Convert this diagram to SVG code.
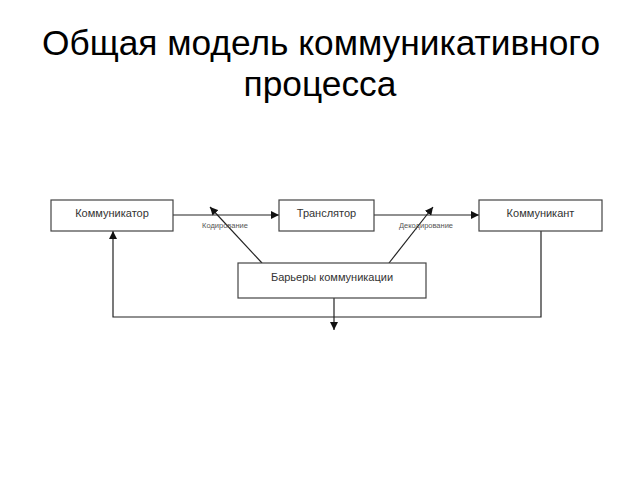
<svg xmlns="http://www.w3.org/2000/svg" width="640" height="480" viewBox="0 0 640 480">
<style>
.title{font-family:"Liberation Sans",Arial,sans-serif;font-size:35.3px;fill:#000;text-anchor:middle}
.box rect{fill:#fff;stroke:#444;stroke-width:1.2}
.box text{font-family:"Liberation Sans",Arial,sans-serif;font-size:11px;fill:#333;text-anchor:middle}
.lbl{font-family:"Liberation Sans",Arial,sans-serif;font-size:7.5px;fill:#555;text-anchor:middle}
.conn path{fill:none;stroke:#222;stroke-width:1.2}
</style>
<defs>
<marker id="ah" viewBox="0 0 10 10" refX="10" refY="5" markerWidth="8" markerHeight="8" markerUnits="userSpaceOnUse" orient="auto">
<path d="M0,0 L10,5 L0,10 Z" fill="#111"/>
</marker>
</defs>
<rect width="640" height="480" fill="#fff"/>
<text class="title" x="321" y="55">Общая модель коммуникативного</text>
<text class="title" x="320" y="96">процесса</text>
<g class="conn">
<path d="M173,215 H279" marker-end="url(#ah)"/>
<path d="M374,215 H479" marker-end="url(#ah)"/>
<path d="M262,263 L210,207" marker-end="url(#ah)"/>
<path d="M389,263 L433,207" marker-end="url(#ah)"/>
<path d="M541,231 V317 H113 V231" marker-end="url(#ah)"/>
<path d="M334,298 V330" marker-end="url(#ah)"/>
</g>
<text class="lbl" x="225" y="228">Кодирование</text>
<text class="lbl" x="426" y="228">Декодирование</text>
<g id="kommunikator" class="box"><rect x="51" y="200" width="122" height="31"/><text x="112" y="217">Коммуникатор</text></g>
<g id="translator" class="box"><rect x="279" y="200" width="95" height="31"/><text x="326.5" y="217">Транслятор</text></g>
<g id="kommunikant" class="box"><rect x="479" y="200" width="123" height="31"/><text x="540.5" y="217">Коммуникант</text></g>
<g id="barriers" class="box"><rect x="238" y="263" width="188" height="35"/><text x="332" y="281">Барьеры коммуникации</text></g>
</svg>
